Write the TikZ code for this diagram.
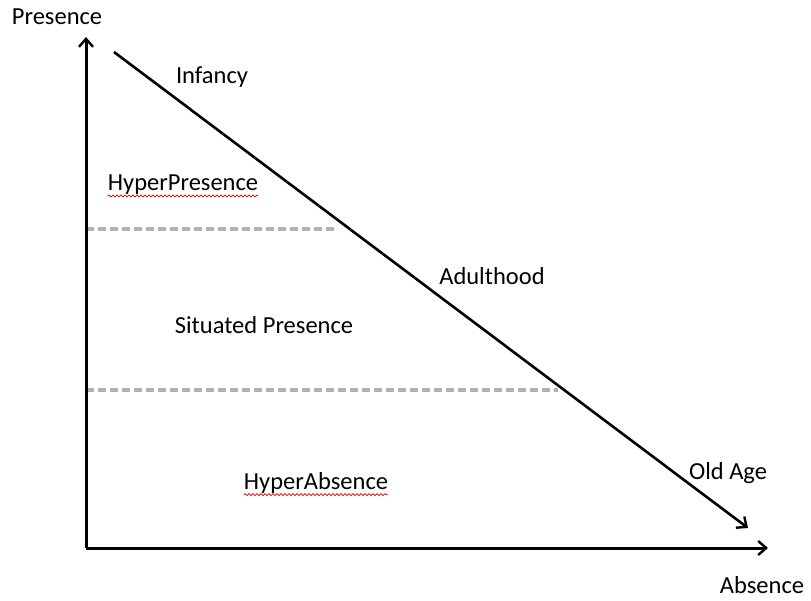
\documentclass[tikz,border=0pt]{standalone}
\usepackage{fontspec}
\setmainfont{Carlito}
\usetikzlibrary{arrows.meta,decorations.pathmorphing}
\begin{document}
\begin{tikzpicture}[x=1pt,y=-1pt,
  axis/.style={line width=3pt,-{Straight Barb[length=8pt,width=14pt,line width=2.4pt]}},
  diag/.style={line width=2.6pt,-{Straight Barb[length=8pt,width=14pt,line width=2.4pt]}},
  sep/.style={line width=3.2pt,color=black!30,dash pattern=on 8pt off 4pt},
  lbl/.style={font=\fontsize{24.5}{28}\selectfont,inner sep=0pt},
  squig/.style={red!85!black,line width=0.7pt,decorate,decoration={snake,segment length=4pt,amplitude=1pt}}]
\useasboundingbox (0,0) rectangle (811,600);
\coordinate (O) at (86,548);
\coordinate (Ytop) at (86,37);
\coordinate (Xend) at (768,548);
\coordinate (Dstart) at (114,52);
\coordinate (Dend) at (748,528);
\coordinate (s1a) at (86,229);
\coordinate (s1b) at (337,229);
\coordinate (s2a) at (86,390);
\coordinate (s2b) at (558,390);
\draw[sep] (s1a) -- (s1b);
\draw[sep] (s2a) -- (s2b);
\draw[axis] (O) -- (Ytop);
\draw[axis] (O) -- (Xend);
\draw[diag] (Dstart) -- (Dend);
\node[lbl] (presence) at (57,17) {Presence};
\node[lbl] (infancy) at (212,77) {Infancy};
\node[lbl] (hyperp) at (183,185) {HyperPresence};
\node[lbl] (adult) at (492,276) {Adulthood};
\node[lbl] (situated) at (264,325) {Situated Presence};
\node[lbl] (hypera) at (316,483) {HyperAbsence};
\node[lbl] (oldage) at (728,473) {Old Age};
\node[lbl] (absence) at (762,585) {Absence};
\draw[squig] ([yshift=-1pt]hyperp.south west) -- ([yshift=-1pt]hyperp.south east);
\draw[squig] ([yshift=-1pt]hypera.south west) -- ([yshift=-1pt]hypera.south east);
\end{tikzpicture}
\end{document}
